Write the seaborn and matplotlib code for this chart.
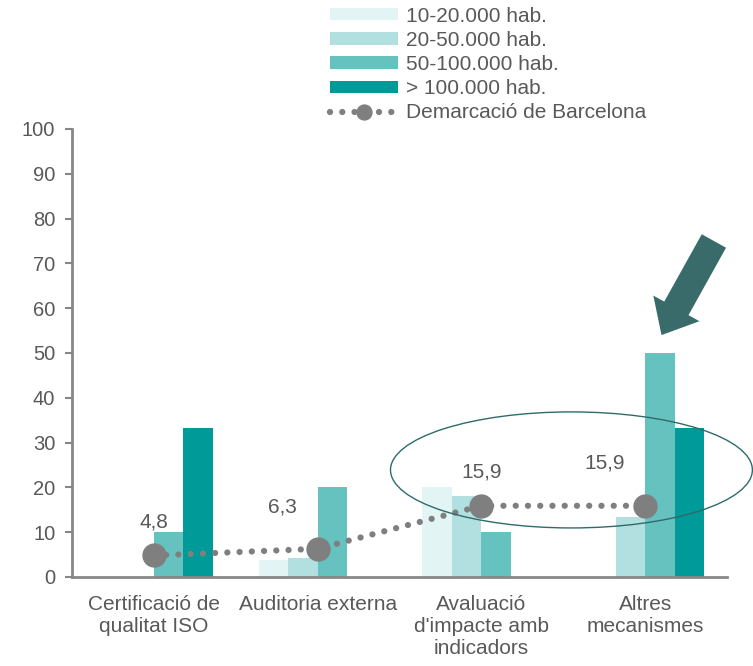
import numpy as np
import pandas as pd
import matplotlib
matplotlib.use('Agg')
import matplotlib.pyplot as plt
from matplotlib.patches import Ellipse
import seaborn as sns

categories = ['Certificació de\nqualitat ISO', 'Auditoria externa',
              "Avaluació\nd'impacte amb\nindicadors", 'Altres\nmecanismes']
size_groups = ['10-20.000 hab.', '20-50.000 hab.', '50-100.000 hab.', '> 100.000 hab.']
vals_10_20 = [0, 3.8, 20.0, 0]
vals_20_50 = [0, 4.3, 18.0, 13.5]
vals_50_100 = [10.0, 20.0, 10.0, 50.0]
vals_100 = [33.3, 0, 0, 33.3]
barcelona = [4.8, 6.3, 15.9, 15.9]
barcelona_labels = ['4,8', '6,3', '15,9', '15,9']

bar_colors = ['#E3F4F4', '#B2DFDF', '#66C2BF', '#009A98']
grey = '#595959'

rows = []
for grp, vals in zip(size_groups, [vals_10_20, vals_20_50, vals_50_100, vals_100]):
    for cat, v in zip(categories, vals):
        rows.append({'cat': cat, 'grup': grp, 'val': v})
df = pd.DataFrame(rows)

sns.set_style('white')
plt.rcParams['font.family'] = ['Liberation Sans', 'DejaVu Sans']

fig = plt.figure(figsize=(7.53, 6.66), dpi=100)
ax = fig.add_axes([72 / 753, 89 / 666, 655 / 753, 448 / 666])

sns.barplot(data=df, x='cat', y='val', hue='grup', hue_order=size_groups,
            palette=bar_colors, saturation=1, width=0.72, linewidth=0, ax=ax)

x = np.arange(len(categories))
ax.plot(x, barcelona, color='#7F7F7F', lw=4.5, linestyle=(0, (0.01, 1.95)),
        dash_capstyle='round', marker='o', markersize=16.5,
        label='Demarcació de Barcelona', zorder=5)

# etiquetes de la línia
offsets = [(0, 24), (-25, 30), (0, 24), (-29, 31)]
for xi, yi, lab, off in zip(x, barcelona, barcelona_labels, offsets):
    ax.annotate(lab, (xi, yi), xytext=off, textcoords='offset points',
                ha='center', va='center', fontsize=15, color=grey)

# el·lipse i fletxa
ax.add_patch(Ellipse((2.55, 23.9), 2.21, 25.9, fill=False,
                     edgecolor='#2E6B6B', lw=1, clip_on=False, zorder=6))
ax.annotate('', xy=(3.10, 54), xytext=(3.42, 75),
            arrowprops=dict(arrowstyle='simple,head_length=22,head_width=38,tail_width=20',
                            mutation_scale=1, color='#396B6B', lw=0, shrinkA=0, shrinkB=0),
            annotation_clip=False)

ax.set_ylim(0, 100)
ax.set_xlim(-0.5, 3.5)
ax.set_yticks(range(0, 101, 10))
ax.set_xlabel('')
ax.set_ylabel('')
ax.tick_params(axis='y', length=5, width=1.5, color='#878787', labelsize=14.5,
               labelcolor=grey, left=True, pad=7)
ax.tick_params(axis='x', length=0, labelsize=15, labelcolor=grey, pad=13)
for s in ['top', 'right']:
    ax.spines[s].set_visible(False)
for s in ['left', 'bottom']:
    ax.spines[s].set_color('#878787')
    ax.spines[s].set_linewidth(2)

handles, labels = ax.get_legend_handles_labels()
ax.get_legend().remove()
fig.legend(handles, labels, loc='upper left', bbox_to_anchor=(315 / 753, 1.012),
           frameon=False, fontsize=15, handlelength=3.3, handleheight=0.55,
           labelspacing=0.25, handletextpad=0.35, borderaxespad=0.3,
           markerscale=0.65, labelcolor=grey)

fig.savefig('out.png', dpi=100)
